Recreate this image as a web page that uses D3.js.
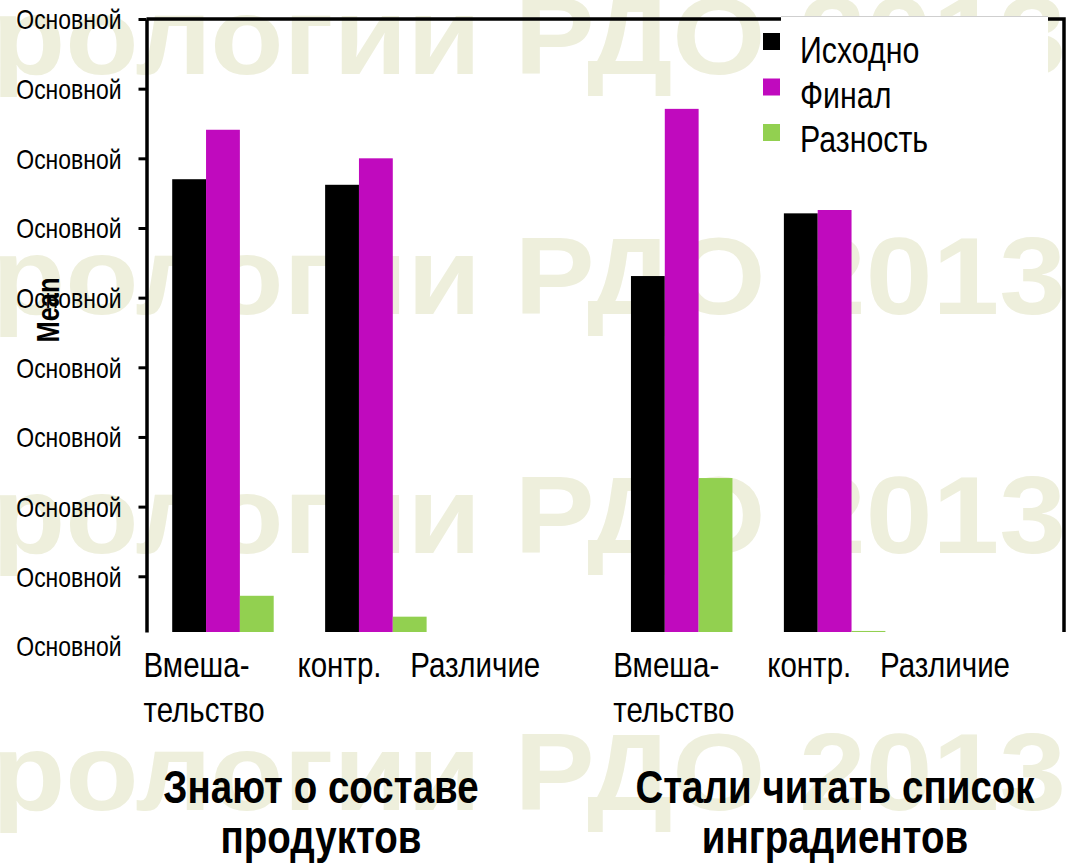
<!DOCTYPE html>
<html><head><meta charset="utf-8">
<script src="https://cdn.jsdelivr.net/npm/d3@7"></script>
<style>html,body{margin:0;padding:0;background:#fff;overflow:hidden}</style>
</head><body>
<svg id="chart" width="1068" height="865"></svg>
<script>
// ---------- data ----------
const categoryIds = ["g1-int", "g1-ctrl", "g1-diff", "g2-int", "g2-ctrl", "g2-diff"];
const categoryLabels = [["Вмеша-", "тельство"], ["контр."], ["Различие"], ["Вмеша-", "тельство"], ["контр."], ["Различие"]];
const seriesNames = ["Исходно", "Финал", "Разность"];
const seriesColors = ["#000000", "#c00abe", "#92d050"];
const valuesBaseline = [65.0, 64.2, null, 51.1, 60.1, null];
const valuesFinal = [72.1, 68.0, null, 75.1, 62.2, null];
const valuesDiff = [5.2, 2.2, null, 22.1, 0.15, null];
const yTickValues = [-2, 8, 18, 28, 38, 48, 58, 68, 78, 88];
const yTickLabel = "Основной";
const yAxisTitle = "Mean";
const groupTitles = [["Знают о составе", "продуктов"], ["Стали читать список", "инградиентов"]];
const watermarkText = "рологии РДО 2013";

// ---------- layout ----------
const W = 1068, H = 865;
const plot = {left: 146.5, right: 1064, top: 19, bottom: 632};
const labelShift = [-3, -2, -42, 8, 9, -31];
const groupTitleX = [321, 835];
const watermarkBaselines = [74, 314, 553, 810];

// font detection: narrow face or scaled fallback
function hasFont(name) {
  const c = document.createElement("canvas").getContext("2d");
  const s = "Основной Исходно 2013 abcdefghij";
  c.font = "40px monospace"; const a = c.measureText(s).width;
  c.font = `40px "${name}", monospace`; const b = c.measureText(s).width;
  return Math.abs(a - b) > 1;
}
const narrowOK = hasFont("Liberation Sans Narrow");
const FAMILY = narrowOK ? '"Liberation Sans Narrow", "Liberation Sans", Arial, sans-serif' : '"Liberation Sans", Arial, sans-serif';
const WIDE = '"Liberation Sans", Arial, sans-serif';
const SX = narrowOK ? 1 : 0.82;

const svg = d3.select("#chart");

function txt(parent, str, x, y, opts = {}) {
  const sx = opts.family ? 1 : SX;
  const g = parent.append("g").attr("transform", `translate(${x},${y}) rotate(${opts.rotate || 0}) scale(${sx},1)`);
  return g.append("text")
    .attr("x", 0).attr("y", 0)
    .attr("text-anchor", opts.anchor || "start")
    .attr("dominant-baseline", opts.baseline || "alphabetic")
    .attr("font-family", opts.family || FAMILY)
    .attr("font-size", opts.size || 20)
    .attr("font-weight", opts.weight || "normal")
    .attr("fill", opts.fill || "#000")
    .text(str);
}

// ---------- watermark ----------
const wm = svg.append("g");
watermarkBaselines.forEach(b => {
  txt(wm, watermarkText, -8, b, {size: 110, weight: "bold", fill: "#eeefdc", family: WIDE})
    .attr("textLength", 1074).attr("lengthAdjust", "spacingAndGlyphs");
});

// ---------- scales ----------
const x0 = d3.scaleBand().domain(categoryIds).range([plot.left, plot.right]).padding(0);
const x1 = d3.scaleBand().domain(seriesNames).range([0, x0.bandwidth()]).paddingInner(0).paddingOuter(0.76);
const y = d3.scaleLinear().domain([0, 88]).range([plot.bottom, plot.top]);

const seriesValues = [valuesBaseline, valuesFinal, valuesDiff];
const rows = [];
categoryIds.forEach((c, i) => seriesNames.forEach((s, j) => {
  const v = seriesValues[j][i];
  if (v != null) rows.push({cat: c, series: s, value: v, color: seriesColors[j]});
}));

// ---------- bars ----------
svg.append("g").selectAll("rect").data(rows).join("rect")
  .attr("x", d => x0(d.cat) + x1(d.series))
  .attr("width", x1.bandwidth())
  .attr("y", d => y(d.value))
  .attr("height", d => y(0) - y(d.value))
  .attr("fill", d => d.color);

// ---------- y axis ----------
const yAxis = d3.axisLeft(y).tickValues(yTickValues).tickFormat(() => yTickLabel).tickSize(8).tickSizeOuter(0).tickPadding(17);
const ga = svg.append("g").attr("transform", `translate(${plot.left},0)`).call(yAxis);
ga.select(".domain").attr("stroke", "#000").attr("stroke-width", 3.5);
ga.selectAll(".tick line").attr("stroke", "#000").attr("stroke-width", 3)
  .filter(d => d < 0).remove();
ga.selectAll(".tick text").remove();
ga.selectAll(".tick").each(function(d) {
  txt(d3.select(this), yTickLabel, -25, 0, {anchor: "end", baseline: "central", size: 28});
});

// frame (top and right)
svg.append("path")
  .attr("d", `M${plot.left},${plot.top}H${plot.right}V${plot.bottom}`)
  .attr("fill", "none").attr("stroke", "#000").attr("stroke-width", 3.5);

// y axis title
txt(svg, yAxisTitle, 48, 310, {anchor: "middle", baseline: "central", size: 31, weight: "bold", rotate: -90});

// ---------- category labels ----------
categoryIds.forEach((c, i) => {
  categoryLabels[i].forEach((line, k) => {
    txt(svg, line, x0(c) + labelShift[i], 677 + k * 45, {size: 36});
  });
});

// ---------- group titles ----------
groupTitles.forEach((lines, i) => {
  lines.forEach((line, k) => txt(svg, line, groupTitleX[i], 803 + k * 50, {anchor: "middle", size: 47, weight: "bold"}));
});

// ---------- legend ----------
const lg = svg.append("g");
lg.append("rect").attr("x", 781).attr("y", 16).attr("width", 267).attr("height", 194).attr("fill", "#fff");
lg.append("line").attr("x1", 781).attr("x2", 1048).attr("y1", 16.5).attr("y2", 16.5).attr("stroke", "#cfcfcf").attr("stroke-width", 1);
seriesNames.forEach((s, j) => {
  const top = 33 + j * 45.5;
  lg.append("rect").attr("x", 763).attr("y", top).attr("width", 17).attr("height", 17).attr("fill", seriesColors[j]);
  txt(lg, s, 800, 63 + j * 44.5, {size: 37});
});
</script>
</body></html>
